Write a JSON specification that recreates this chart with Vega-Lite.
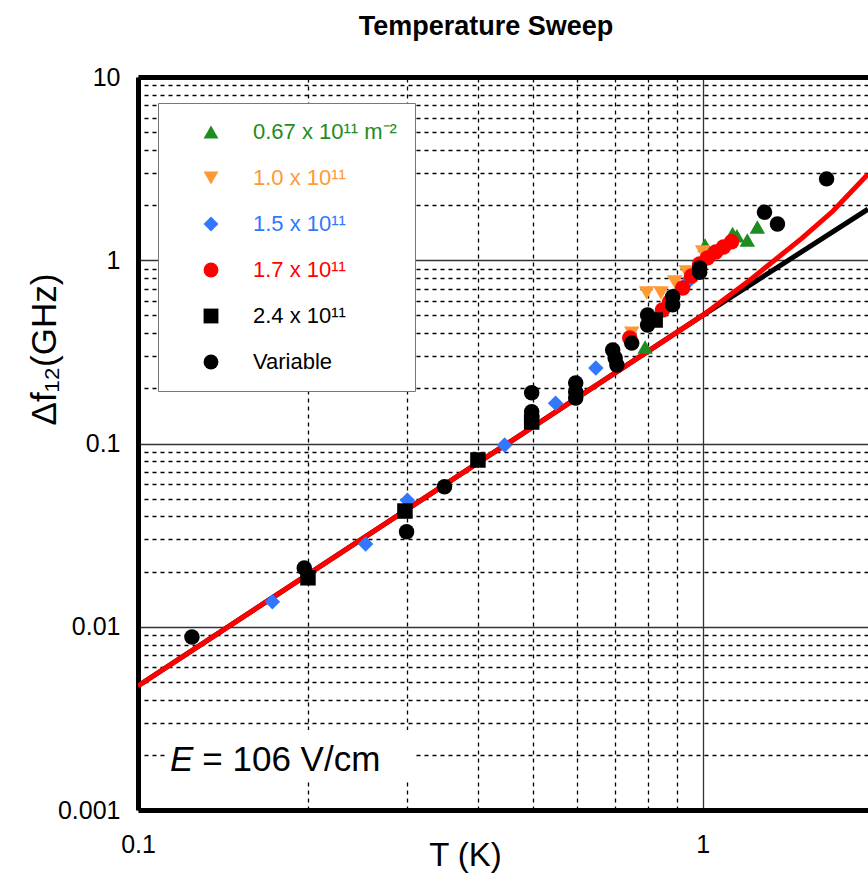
{
  "$schema": "https://vega.github.io/schema/vega-lite/v6.json",
  "autosize": {"type": "none"},
  "padding": {"left": 138, "top": 77, "right": 0, "bottom": 69},
  "width": 730,
  "height": 733,
  "background": "white",
  "title": {"text": "Temperature Sweep", "font": "Liberation Sans", "fontSize": 27, "fontWeight": "bold", "frame": "group", "anchor": "middle", "offset": 24, "dx": -17, "color": "black"},
  "config": {"view": {"stroke": null}, "font": "Liberation Sans"},
  "datasets": {
    "points": [
      {"T": 0.791, "df": 0.336, "s": "0.67 x 10¹¹ m⁻²"},
      {"T": 1.01, "df": 1.21, "s": "0.67 x 10¹¹ m⁻²"},
      {"T": 1.13, "df": 1.40, "s": "0.67 x 10¹¹ m⁻²"},
      {"T": 1.15, "df": 1.36, "s": "0.67 x 10¹¹ m⁻²"},
      {"T": 1.20, "df": 1.29, "s": "0.67 x 10¹¹ m⁻²"},
      {"T": 1.25, "df": 1.52, "s": "0.67 x 10¹¹ m⁻²"},
      {"T": 0.40, "df": 0.079, "s": "1.0 x 10¹¹"},
      {"T": 0.749, "df": 0.40, "s": "1.0 x 10¹¹"},
      {"T": 0.796, "df": 0.663, "s": "1.0 x 10¹¹"},
      {"T": 0.844, "df": 0.663, "s": "1.0 x 10¹¹"},
      {"T": 0.893, "df": 0.761, "s": "1.0 x 10¹¹"},
      {"T": 0.936, "df": 0.863, "s": "1.0 x 10¹¹"},
      {"T": 1.0, "df": 1.11, "s": "1.0 x 10¹¹"},
      {"T": 0.173, "df": 0.0137, "s": "1.5 x 10¹¹"},
      {"T": 0.253, "df": 0.0283, "s": "1.5 x 10¹¹"},
      {"T": 0.30, "df": 0.049, "s": "1.5 x 10¹¹"},
      {"T": 0.446, "df": 0.098, "s": "1.5 x 10¹¹"},
      {"T": 0.549, "df": 0.166, "s": "1.5 x 10¹¹"},
      {"T": 0.647, "df": 0.258, "s": "1.5 x 10¹¹"},
      {"T": 0.938, "df": 0.751, "s": "1.5 x 10¹¹"},
      {"T": 0.95, "df": 0.80, "s": "1.5 x 10¹¹"},
      {"T": 0.743, "df": 0.376, "s": "1.7 x 10¹¹"},
      {"T": 0.849, "df": 0.535, "s": "1.7 x 10¹¹"},
      {"T": 0.874, "df": 0.592, "s": "1.7 x 10¹¹"},
      {"T": 0.922, "df": 0.706, "s": "1.7 x 10¹¹"},
      {"T": 0.956, "df": 0.82, "s": "1.7 x 10¹¹"},
      {"T": 0.988, "df": 0.954, "s": "1.7 x 10¹¹"},
      {"T": 1.02, "df": 1.03, "s": "1.7 x 10¹¹"},
      {"T": 1.055, "df": 1.11, "s": "1.7 x 10¹¹"},
      {"T": 1.089, "df": 1.18, "s": "1.7 x 10¹¹"},
      {"T": 1.125, "df": 1.26, "s": "1.7 x 10¹¹"},
      {"T": 0.20, "df": 0.0185, "s": "2.4 x 10¹¹"},
      {"T": 0.297, "df": 0.0428, "s": "2.4 x 10¹¹"},
      {"T": 0.40, "df": 0.0813, "s": "2.4 x 10¹¹"},
      {"T": 0.498, "df": 0.131, "s": "2.4 x 10¹¹"},
      {"T": 0.824, "df": 0.472, "s": "2.4 x 10¹¹"},
      {"T": 0.1246, "df": 0.0088, "s": "Variable"},
      {"T": 0.197, "df": 0.0209, "s": "Variable"},
      {"T": 0.299, "df": 0.033, "s": "Variable"},
      {"T": 0.349, "df": 0.058, "s": "Variable"},
      {"T": 0.498, "df": 0.189, "s": "Variable"},
      {"T": 0.498, "df": 0.149, "s": "Variable"},
      {"T": 0.498, "df": 0.140, "s": "Variable"},
      {"T": 0.596, "df": 0.214, "s": "Variable"},
      {"T": 0.596, "df": 0.191, "s": "Variable"},
      {"T": 0.596, "df": 0.177, "s": "Variable"},
      {"T": 0.693, "df": 0.324, "s": "Variable"},
      {"T": 0.70, "df": 0.293, "s": "Variable"},
      {"T": 0.705, "df": 0.268, "s": "Variable"},
      {"T": 0.749, "df": 0.353, "s": "Variable"},
      {"T": 0.799, "df": 0.503, "s": "Variable"},
      {"T": 0.799, "df": 0.443, "s": "Variable"},
      {"T": 0.885, "df": 0.632, "s": "Variable"},
      {"T": 0.885, "df": 0.571, "s": "Variable"},
      {"T": 0.988, "df": 0.907, "s": "Variable"},
      {"T": 0.988, "df": 0.86, "s": "Variable"},
      {"T": 1.287, "df": 1.83, "s": "Variable"},
      {"T": 1.357, "df": 1.576, "s": "Variable"},
      {"T": 1.658, "df": 2.78, "s": "Variable"}
    ],
    "blackline": [
      {"T": 0.1, "df": 0.00475},
      {"T": 1.0, "df": 0.50},
      {"T": 1.963, "df": 1.90}
    ],
    "redline": [
      {"T": 0.1, "df": 0.00475},
      {"T": 1.0, "df": 0.50},
      {"T": 1.2, "df": 0.76},
      {"T": 1.5, "df": 1.32},
      {"T": 1.7, "df": 1.85},
      {"T": 1.963, "df": 2.95}
    ],
    "box": [
      {"T": 0.1116, "T2": 0.3093, "df": 0.00142, "df2": 0.00273}
    ],
    "noteE": [
      {"T": 0.1139, "df": 0.00163, "label": "E"}
    ],
    "noteRest": [
      {"T": 0.1300, "df": 0.00163, "label": "= 106 V/cm"}
    ]
  },
  "resolve": {"axis": {"x": "independent", "y": "independent"}},
  "layer": [
    {
      "data": {"name": "box"},
      "mark": {"type": "rect", "color": "white"},
      "encoding": {
        "x": {"field": "T", "type": "quantitative", "scale": {"type": "log", "domain": [0.1, 1.963], "nice": false}, "axis": null},
        "x2": {"field": "T2"},
        "y": {"field": "df", "type": "quantitative", "scale": {"type": "log", "domain": [0.001, 10], "nice": false}, "axis": null},
        "y2": {"field": "df2"}
      }
    },
    {
      "data": {"name": "blackline"},
      "mark": {"type": "line", "color": "black", "strokeWidth": 5, "clip": true},
      "encoding": {
        "x": {"field": "T", "type": "quantitative", "axis": {
          "orient": "top", "values": [0.2, 0.3, 0.4, 0.5, 0.6, 0.7, 0.8, 0.9],
          "grid": true, "gridColor": "black", "gridDash": [4, 4], "gridWidth": 1.3, "gridOpacity": 1,
          "labels": false, "ticks": false, "domain": true, "domainColor": "black", "domainWidth": 5, "title": null}},
        "y": {"field": "df", "type": "quantitative", "axis": {
          "orient": "right",
          "values": [0.002, 0.003, 0.004, 0.005, 0.006, 0.007, 0.008, 0.009, 0.02, 0.03, 0.04, 0.05, 0.06, 0.07, 0.08, 0.09, 0.2, 0.3, 0.4, 0.5, 0.6, 0.7, 0.8, 0.9, 2, 3, 4, 5, 6, 7, 8, 9],
          "grid": true, "gridColor": "black", "gridDash": [4, 4], "gridWidth": 1.3, "gridOpacity": 1,
          "labels": false, "ticks": false, "domain": false, "title": null}}
      }
    },
    {
      "data": {"name": "redline"},
      "mark": {"type": "line", "color": "#FF0000", "strokeWidth": 5, "clip": true},
      "encoding": {
        "x": {"field": "T", "type": "quantitative", "axis": null},
        "y": {"field": "df", "type": "quantitative", "axis": null}
      }
    },
    {
      "data": {"name": "points"},
      "mark": {"type": "point", "filled": true, "opacity": 1, "strokeWidth": 0, "size": 240},
      "encoding": {
        "x": {"field": "T", "type": "quantitative", "axis": {
          "orient": "bottom", "values": [0.1, 1], "format": "~g",
          "grid": true, "gridColor": "#333333", "gridWidth": 1.3, "gridOpacity": 1,
          "domain": true, "domainColor": "black", "domainWidth": 5, "ticks": false,
          "labelFontSize": 25, "labelPadding": 22, "labelColor": "black", "labelFlush": false, "labelFont": "Liberation Sans",
          "title": "T (K)", "titleFontSize": 33, "titleFontWeight": "normal", "titleColor": "black", "titleFont": "Liberation Sans",
          "titleX": 327, "titleY": 29}},
        "y": {"field": "df", "type": "quantitative", "axis": {
          "orient": "left", "values": [0.001, 0.01, 0.1, 1, 10], "format": "~g",
          "grid": true, "gridColor": "#333333", "gridWidth": 1.3, "gridOpacity": 1,
          "domain": true, "domainColor": "black", "domainWidth": 5, "ticks": false,
          "labelFontSize": 25, "labelPadding": 18, "labelColor": "black", "labelFlush": false, "labelFont": "Liberation Sans",
          "title": "Δf₁₂(GHz)", "titleFontSize": 35, "titleFontWeight": "normal", "titleColor": "black", "titleFont": "Liberation Sans",
          "titleX": -76, "titleY": 272}},
        "shape": {"field": "s", "type": "nominal",
          "scale": {"domain": ["0.67 x 10¹¹ m⁻²", "1.0 x 10¹¹", "1.5 x 10¹¹", "1.7 x 10¹¹", "2.4 x 10¹¹", "Variable"],
                    "range": ["triangle-up", "triangle-down", "diamond", "circle", "square", "circle"]},
          "legend": {"orient": "none", "legendX": 20, "legendY": 26, "title": null,
            "fillColor": "white", "strokeColor": "#777777", "padding": 18,
            "symbolOffset": 24, "labelOffset": 31, "labelFontSize": 22, "labelFont": "Liberation Sans",
            "symbolSize": 220, "rowPadding": 24, "symbolStrokeWidth": 0, "labelLimit": 300,
            "labelColor": {"expr": "datum.index == 0 ? '#1E8C1E' : datum.index == 1 ? '#FF9933' : datum.index == 2 ? '#3377FF' : datum.index == 3 ? '#FF0000' : 'black'"}}},
        "color": {"field": "s", "type": "nominal",
          "scale": {"domain": ["0.67 x 10¹¹ m⁻²", "1.0 x 10¹¹", "1.5 x 10¹¹", "1.7 x 10¹¹", "2.4 x 10¹¹", "Variable"],
                    "range": ["#1E8C1E", "#FF9933", "#3377FF", "#FF0000", "black", "black"]}}
      }
    },
    {
      "data": {"name": "noteE"},
      "mark": {"type": "text", "fontSize": 35, "fontStyle": "italic", "align": "left", "baseline": "alphabetic", "font": "Liberation Sans", "color": "black"},
      "encoding": {
        "x": {"field": "T", "type": "quantitative", "axis": null},
        "y": {"field": "df", "type": "quantitative", "axis": null},
        "text": {"field": "label"}
      }
    },
    {
      "data": {"name": "noteRest"},
      "mark": {"type": "text", "fontSize": 35, "align": "left", "baseline": "alphabetic", "font": "Liberation Sans", "color": "black"},
      "encoding": {
        "x": {"field": "T", "type": "quantitative", "axis": null},
        "y": {"field": "df", "type": "quantitative", "axis": null},
        "text": {"field": "label"}
      }
    }
  ]
}
